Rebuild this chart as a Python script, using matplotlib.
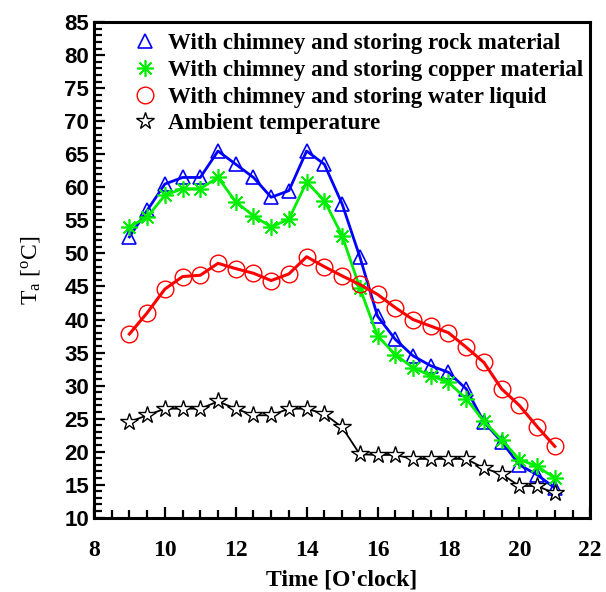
import numpy as np
from matplotlib import pyplot as plt
from matplotlib.ticker import MultipleLocator

plt.rcParams['mathtext.fontset'] = 'custom'
plt.rcParams['mathtext.rm'] = 'Liberation Serif'
plt.rcParams['mathtext.it'] = 'Liberation Serif:italic'

# time of day, every half hour
hours = np.arange(9, 21.01, 0.5)

rock = [52.5, 56.5, 60.5, 61.5, 61.5, 65.5, 63.5, 61.5, 58.5, 59.5,
        65.5, 63.5, 57.5, 49.5, 40.5, 37.0, 34.5, 33.0, 32.0, 29.5,
        24.5, 21.5, 18.0, 16.5, 14.5]
copper = [54.0, 55.5, 58.8, 59.8, 59.8, 61.5, 57.8, 55.7, 54.0, 55.2,
          60.8, 58.0, 52.7, 44.8, 37.5, 34.7, 32.7, 31.5, 30.5, 28.0,
          24.6, 21.8, 18.8, 17.8, 16.0]
water = [37.8, 41.0, 44.6, 46.5, 46.7, 48.5, 47.7, 47.0, 45.9, 46.9,
         49.5, 48.0, 46.6, 45.3, 43.8, 41.8, 40.0, 39.0, 38.0, 35.8,
         33.5, 29.5, 27.0, 23.8, 20.8]
ambient = [24.5, 25.5, 26.5, 26.5, 26.5, 27.6, 26.5, 25.5, 25.5, 26.5,
           26.5, 25.7, 23.7, 19.6, 19.5, 19.5, 18.9, 18.9, 18.9, 18.9,
           17.5, 16.6, 14.8, 14.8, 13.7]

labels = ["With chimney and storing rock material",
          "With chimney and storing copper material",
          "With chimney and storing water liquid",
          "Ambient temperature"]

fig = plt.figure(figsize=(6.06, 5.92), dpi=100)
ax = fig.add_axes([0.155, 0.1255, 0.819, 0.837])

ax.plot(hours, rock, color='blue', lw=2, marker='^', ms=10,
        mfc='none', mec='blue', mew=1.2, label=labels[0])
ax.plot(hours, copper, color='#00ee00', lw=2, marker=(8, 2, 0), ms=12,
        mec='#00ee00', mew=1.2, label=labels[1])
ax.plot(hours, water, color='red', lw=2.2, marker='o', ms=12,
        mfc='none', mec='red', mew=1, label=labels[2])
ax.plot(hours, ambient, color='black', lw=1.3, marker='*', ms=13,
        mfc='white', mec='black', mew=1, label=labels[3])

ax.set_xlim(8, 22)
ax.set_ylim(10, 85)
ax.xaxis.set_major_locator(MultipleLocator(2))
ax.xaxis.set_minor_locator(MultipleLocator(0.5))
ax.yaxis.set_major_locator(MultipleLocator(5))
ax.yaxis.set_minor_locator(MultipleLocator(1))
ax.tick_params(which='both', direction='in', top=False, right=False, width=1.6)
ax.tick_params(which='major', length=8)
ax.tick_params(which='minor', length=5.5)
ax.tick_params(axis='x', pad=16)
for s in ax.spines.values():
    s.set_linewidth(2.2)

for t in ax.get_xticklabels():
    t.set_fontfamily('Liberation Serif')
    t.set_fontweight('bold')
    t.set_fontsize(17)
for t in ax.get_yticklabels():
    t.set_fontfamily('Liberation Sans')
    t.set_fontweight('bold')
    t.set_fontsize(16)

ax.set_xlabel("Time [O'clock]", family='Liberation Serif', weight='bold',
              fontsize=17, labelpad=6)
ax.set_ylabel(r'T$_\mathrm{a}$ [$^\mathrm{o}$C]', family='Liberation Serif',
              fontsize=17, labelpad=16)

leg = ax.legend(loc='upper left', bbox_to_anchor=(0.053, 1.006), frameon=False,
                handlelength=1.0, handletextpad=0.5, labelspacing=0.25,
                borderaxespad=0.2, prop={'family': 'Liberation Serif',
                                          'weight': 'bold', 'size': 16.5})
for h in leg.legend_handles:
    h.set_linestyle('none')

fig.savefig('out.png', dpi=100)
